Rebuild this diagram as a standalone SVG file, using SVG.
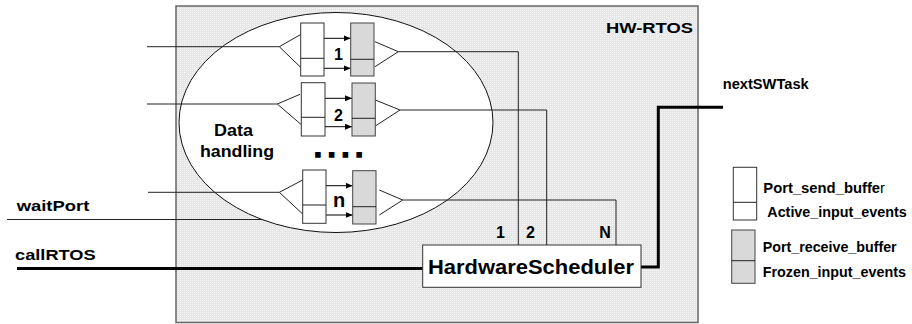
<svg xmlns="http://www.w3.org/2000/svg" width="912" height="324" viewBox="0 0 912 324">
<style>
text{font-family:"Liberation Sans",Arial,sans-serif;font-weight:bold;fill:#000}
.ln{fill:none;stroke:#222;stroke-width:1}
.thick{fill:none;stroke:#000;stroke-width:3}
.send{fill:#fff;stroke:#333;stroke-width:1}
.recv{fill:#d9d9d9;stroke:#444;stroke-width:1}
.arr{fill:none;stroke:#000;stroke-width:1;marker-end:url(#ah)}
</style>
<defs>
<pattern id="dots" width="2" height="2" patternUnits="userSpaceOnUse">
<rect width="2" height="2" fill="#e6e6e6"/>
<rect width="1" height="1" fill="#f6f6f6"/>
</pattern>
<marker id="ah" markerWidth="7" markerHeight="6" refX="7" refY="3" orient="auto" markerUnits="userSpaceOnUse">
<path d="M0,0 L7,3 L0,6 z" fill="#000"/>
</marker>
</defs>
<rect width="912" height="324" fill="#fff"/>

<g id="hw-rtos">
<rect x="176" y="6" width="522" height="316.5" fill="url(#dots)" stroke="#666" stroke-width="1.5"/>
<text x="606" y="33.3" font-size="14" textLength="87" lengthAdjust="spacingAndGlyphs">HW-RTOS</text>
</g>

<g id="data-handling">
<ellipse cx="336" cy="122.5" rx="157" ry="110" fill="#fff" stroke="#111" stroke-width="1"/>
<text x="214" y="136" font-size="17" textLength="39" lengthAdjust="spacingAndGlyphs">Data</text>
<text x="200" y="157" font-size="17" textLength="74" lengthAdjust="spacingAndGlyphs">handling</text>
<text x="314" y="156.5" font-size="28" letter-spacing="6" stroke="#000" stroke-width="1.6">....</text>
</g>

<g id="connectors">
<!-- row 1 -->
<polyline class="ln" points="147,46.7 279.3,46.7"/>
<polyline class="ln" points="302.7,33.3 279.3,46.7 302.7,69.3"/>
<line class="arr" x1="322.7" y1="38.3" x2="350.7" y2="38.3"/>
<line class="arr" x1="322.7" y1="68.3" x2="350.7" y2="68.3"/>
<polyline class="ln" points="375,41.7 398.3,51.7 375,66.7"/>
<polyline class="ln" points="398.3,51.7 518.3,51.7 518.3,245"/>
<!-- row 2 -->
<polyline class="ln" points="147,104 277.3,104"/>
<polyline class="ln" points="300,94.3 277.3,104 301.7,125"/>
<line class="arr" x1="324" y1="98.3" x2="352" y2="98.3"/>
<line class="arr" x1="324" y1="126.7" x2="352" y2="126.7"/>
<polyline class="ln" points="375.3,100 400,110 375.3,126"/>
<polyline class="ln" points="400,110 546.7,110 546.7,245"/>
<!-- row n -->
<polyline class="ln" points="148,192.3 279.3,192.3"/>
<polyline class="ln" points="302.7,180 279.3,192.3 302.7,214"/>
<line class="arr" x1="325" y1="185.7" x2="352.7" y2="185.7"/>
<line class="arr" x1="325" y1="215" x2="352.7" y2="215"/>
<polyline class="ln" points="379.3,190 402.7,200 379.3,215"/>
<polyline class="ln" points="402.7,200 616,200 616,245"/>
<!-- waitPort -->
<line class="ln" x1="7" y1="219.5" x2="263" y2="219.5"/>
<!-- callRTOS -->
<line class="thick" x1="17" y1="268.5" x2="422.7" y2="268.5"/>
<!-- nextSWTask -->
<polyline class="thick" points="641,267 658.3,267 658.3,107.3 723,107.3"/>
</g>

<g id="buffers-1">
<rect class="send" x="300.7" y="23" width="23.3" height="53"/>
<line class="ln" x1="300.7" y1="58.3" x2="324" y2="58.3"/>
<rect class="recv" x="350.7" y="23" width="23.3" height="53"/>
<line class="ln" x1="350.7" y1="59.3" x2="374" y2="59.3"/>
<text x="334" y="60" font-size="16">1</text>
</g>
<g id="buffers-2">
<rect class="send" x="301.3" y="82.7" width="23.7" height="53.3"/>
<line class="ln" x1="301.3" y1="117.3" x2="325" y2="117.3"/>
<rect class="recv" x="352" y="83" width="23.3" height="53"/>
<line class="ln" x1="352" y1="118.3" x2="375.3" y2="118.3"/>
<text x="334" y="120.7" font-size="16">2</text>
</g>
<g id="buffers-n">
<rect class="send" x="302.7" y="170" width="23.3" height="53.3"/>
<line class="ln" x1="302.7" y1="205" x2="326" y2="205"/>
<rect class="recv" x="352.7" y="170.7" width="23.3" height="53.3"/>
<line class="ln" x1="352.7" y1="206.7" x2="376" y2="206.7"/>
<text x="333" y="206.7" font-size="20">n</text>
</g>

<g id="scheduler">
<rect x="422.7" y="245" width="218.3" height="42.3" fill="#fff" stroke="#333" stroke-width="1"/>
<text x="428" y="273.5" font-size="21" textLength="206" lengthAdjust="spacingAndGlyphs">HardwareScheduler</text>
<text x="496" y="238.3" font-size="16">1</text>
<text x="526" y="238.3" font-size="16">2</text>
<text x="599.3" y="238.3" font-size="16">N</text>
</g>

<g id="inputs">
<text x="16.7" y="211" font-size="15.5" textLength="72.6" lengthAdjust="spacingAndGlyphs">waitPort</text>
<text x="15" y="260" font-size="15.5" textLength="80.7" lengthAdjust="spacingAndGlyphs">callRTOS</text>
<text x="722.7" y="89.3" font-size="14.5" textLength="86" lengthAdjust="spacingAndGlyphs">nextSWTask</text>
</g>

<g id="legend">
<rect class="send" x="733.3" y="167.3" width="23.4" height="52.7"/>
<line class="ln" x1="733.3" y1="202.3" x2="756.7" y2="202.3"/>
<rect class="recv" x="731.7" y="230" width="23.3" height="53.3"/>
<line class="ln" x1="731.7" y1="260.7" x2="755" y2="260.7"/>
<text x="763.3" y="193.3" font-size="14" textLength="121.7" lengthAdjust="spacingAndGlyphs">Port_send_buffe<tspan font-weight="normal">r</tspan></text>
<text x="767.3" y="216.7" font-size="14" textLength="139.4" lengthAdjust="spacingAndGlyphs">Active_input_events</text>
<text x="762.7" y="252.3" font-size="14" textLength="134" lengthAdjust="spacingAndGlyphs">Port_receive_buffer</text>
<text x="762.7" y="276.7" font-size="14" textLength="143.3" lengthAdjust="spacingAndGlyphs">Frozen_input_events</text>
</g>
</svg>
